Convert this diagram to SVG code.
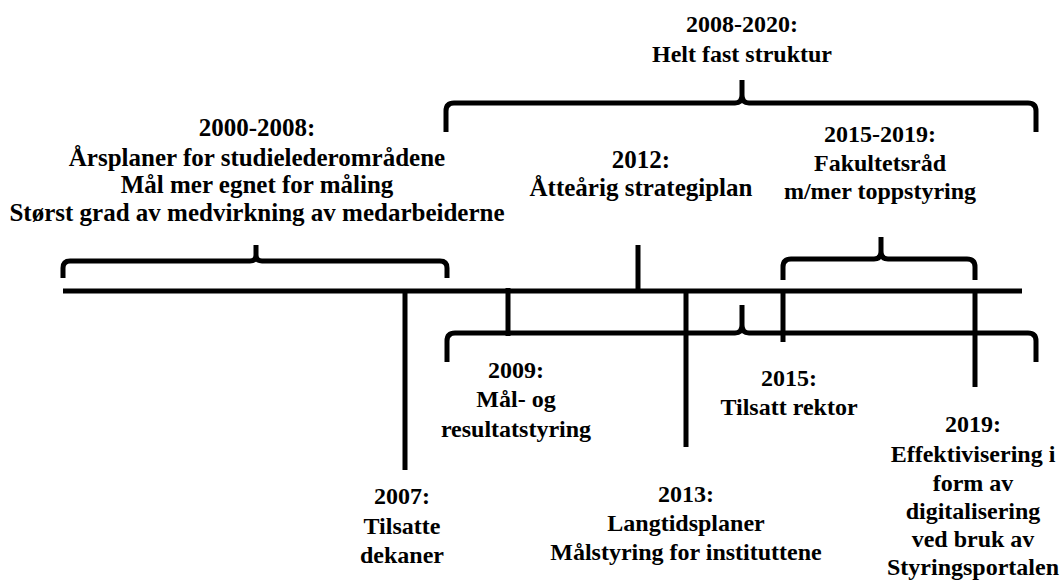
<svg xmlns="http://www.w3.org/2000/svg" width="1064" height="585" viewBox="0 0 1064 585">
<style>
.ln{fill:none;stroke:#000;stroke-width:5;stroke-linejoin:round;stroke-linecap:butt}
.t{font-family:'Liberation Serif',Tinos,'Times New Roman','DejaVu Serif',serif;font-weight:700;font-size:24px;fill:#000;text-anchor:middle}
.big{font-size:25px}
</style>
<rect width="1064" height="585" fill="#fff"/>
<g id="connectors">
<line class="ln" x1="63" y1="291" x2="1022" y2="291"/>
<line class="ln" x1="405" y1="291" x2="405" y2="470"/>
<line class="ln" x1="508" y1="288" x2="508" y2="336"/>
<line class="ln" x1="638" y1="245" x2="638" y2="291"/>
<line class="ln" x1="686" y1="291" x2="686" y2="447"/>
<line class="ln" x1="783" y1="291" x2="783" y2="342"/>
<line class="ln" x1="975" y1="291" x2="975" y2="387"/>
</g>
<g id="brace-2000-2008"><path class="ln" d="M63 278 V268 Q63 261 70 261 H250 Q256 261 256 255 V245 M256 255 Q256 261 262 261 H440 Q447 261 447 268 V278"/></g>
<g id="brace-2008-2020"><path class="ln" d="M446 132 V111 Q446 103 454 103 H735 Q742 103 742 95 V80 M742 95 Q742 103 749 103 H1028 Q1036 103 1036 111 V132"/></g>
<g id="brace-2015-2019"><path class="ln" d="M783 280 V267 Q783 259 791 259 H874 Q881 259 881 251 V237 M881 251 Q881 259 888 259 H967 Q975 259 975 267 V280"/></g>
<g id="brace-lower"><path class="ln" d="M447 362 V341 Q447 333 455 333 H735 Q742 333 742 325 V305 M742 325 Q742 333 749 333 H1028 Q1036 333 1036 341 V362"/></g>
<g id="n2008-2020"><text class="t" x="742" y="32">2008-2020:</text><text class="t" x="742" y="62">Helt fast struktur</text></g>
<g id="n2000-2008"><text class="t big" x="257" y="136">2000-2008:</text><text class="t big" x="257" y="166">Årsplaner for studielederområdene</text><text class="t big" x="257" y="193">Mål mer egnet for måling</text><text class="t big" x="257" y="221">Størst grad av medvirkning av medarbeiderne</text></g>
<g id="n2012"><text class="t big" x="641" y="168">2012:</text><text class="t big" x="641" y="196">Åtteårig strategiplan</text></g>
<g id="n2015-2019"><text class="t" x="880" y="142">2015-2019:</text><text class="t" x="880" y="171">Fakultetsråd</text><text class="t" x="880" y="199">m/mer toppstyring</text></g>
<g id="n2009"><text class="t" x="516" y="378">2009:</text><text class="t" x="516" y="407">Mål- og</text><text class="t" x="516" y="437">resultatstyring</text></g>
<g id="n2007"><text class="t" x="402" y="504">2007:</text><text class="t" x="402" y="534">Tilsatte</text><text class="t" x="402" y="563">dekaner</text></g>
<g id="n2013"><text class="t" x="686" y="502">2013:</text><text class="t" x="686" y="531">Langtidsplaner</text><text class="t" x="686" y="560">Målstyring for instituttene</text></g>
<g id="n2015"><text class="t" x="789" y="386">2015:</text><text class="t" x="789" y="415">Tilsatt rektor</text></g>
<g id="n2019"><text class="t" x="973" y="432">2019:</text><text class="t" x="973" y="462">Effektivisering i</text><text class="t" x="973" y="491">form av</text><text class="t" x="973" y="519">digitalisering</text><text class="t" x="973" y="547">ved bruk av</text><text class="t" x="973" y="575">Styringsportalen</text></g>
</svg>
